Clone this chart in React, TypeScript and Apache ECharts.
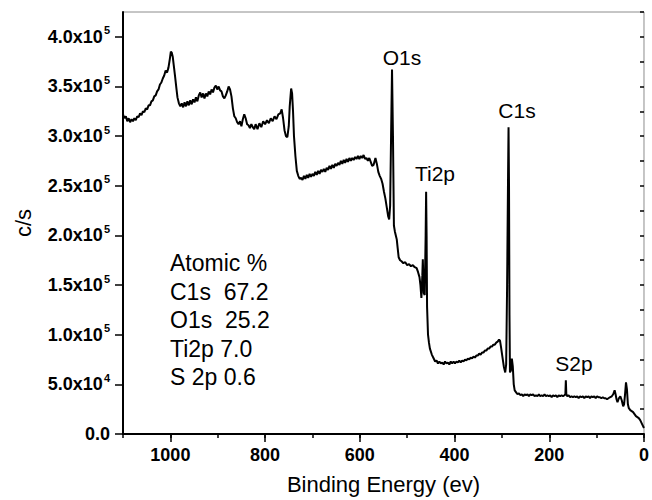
import React, { useEffect, useRef } from 'react';
import * as echarts from 'echarts';

// XPS survey spectrum: [binding energy (eV), intensity (10^3 c/s)]
const spectrum: [number, number][] = [
  [1100, 322], [1097, 318], [1094, 320], [1091, 315], [1088, 318], [1085, 314], [1082, 317], [1079, 315],
  [1076, 318], [1073, 316], [1070, 320], [1067, 319], [1064, 323], [1061, 321], [1058, 325], [1055, 324],
  [1052, 328], [1049, 327], [1046, 331], [1043, 331], [1040, 335], [1037, 336], [1034, 340], [1031, 341],
  [1028, 345], [1025, 347], [1022, 352], [1019, 354], [1016, 358], [1013, 361], [1010, 366], [1007, 364],
  [1004, 369], [1001, 378], [999, 385], [997, 384], [995, 380], [993, 372], [990, 360], [987, 347],
  [985, 339], [982, 333], [979, 330], [976, 333], [973, 329], [970, 334], [967, 330], [964, 335],
  [961, 331], [958, 336], [955, 332], [952, 337], [949, 334], [946, 339], [943, 335], [940, 341],
  [937, 344], [934, 339], [931, 343], [928, 338], [925, 343], [922, 340], [919, 345], [916, 342],
  [913, 347], [910, 344], [907, 349], [904, 351], [901, 347], [898, 350], [895, 346], [892, 345],
  [889, 340], [886, 338], [883, 341], [880, 345], [877, 350], [874, 347], [871, 340], [868, 328],
  [865, 320], [862, 318], [859, 314], [856, 312], [853, 315], [850, 310], [847, 317], [844, 322],
  [841, 318], [838, 312], [835, 311], [832, 308], [829, 312], [826, 309], [823, 307], [820, 312],
  [816, 307], [812, 313], [808, 309], [804, 315], [800, 312], [796, 316], [792, 313], [788, 318],
  [784, 315], [780, 320], [776, 317], [772, 322], [768, 323], [765, 327], [762, 318], [759, 306],
  [756, 300], [753, 299], [750, 310], [748, 330], [745, 348], [743, 343], [741, 325], [739, 300],
  [736, 280], [733, 265], [730, 260], [727, 257], [724, 258], [721, 256], [718, 260], [715, 257],
  [712, 261], [709, 258], [706, 262], [703, 259], [700, 262], [697, 260], [694, 264], [691, 261],
  [688, 265], [685, 262], [682, 266], [679, 264], [676, 267], [673, 264], [670, 268], [667, 266],
  [664, 270], [661, 267], [658, 271], [655, 268], [652, 272], [649, 270], [646, 273], [643, 271],
  [640, 275], [637, 272], [634, 276], [631, 273], [628, 277], [625, 274], [622, 278], [619, 275],
  [616, 278], [613, 276], [610, 279], [607, 277], [604, 280], [601, 277], [598, 280], [595, 278],
  [592, 281], [589, 277], [586, 278], [583, 275], [580, 278], [577, 274], [574, 270], [571, 271],
  [567, 278], [564, 272], [561, 264], [558, 260], [555, 257], [552, 252], [549, 244], [546, 237],
  [543, 228], [540, 219], [538, 216], [536, 230], [534, 300], [532, 367], [530, 300], [528, 210],
  [526, 204], [524, 200], [522, 196], [520, 187], [518, 178], [515, 175], [512, 174], [508, 172],
  [504, 173], [500, 170], [496, 171], [492, 169], [488, 170], [484, 168], [480, 167], [477, 163],
  [474, 158], [472, 150], [470, 137], [468, 160], [467, 176], [466, 160], [465, 142], [463, 140],
  [461, 200], [460, 244], [459, 200], [458, 128], [456, 100], [454, 92], [452, 86], [448, 80],
  [444, 76], [441, 73], [438, 74], [435, 71], [432, 73], [429, 71], [426, 72], [423, 70],
  [420, 73], [417, 71], [414, 72], [411, 70], [408, 73], [405, 71], [402, 73], [399, 71],
  [396, 73], [393, 72], [390, 74], [387, 72], [384, 74], [381, 73], [378, 75], [375, 74],
  [372, 76], [369, 75], [366, 77], [363, 76], [360, 78], [357, 77], [354, 79], [351, 79],
  [348, 81], [345, 80], [342, 82], [339, 82], [336, 84], [333, 84], [330, 86], [327, 86],
  [324, 88], [321, 88], [318, 90], [315, 90], [312, 92], [309, 93], [306, 95], [304, 94],
  [302, 88], [299, 78], [296, 68], [293, 62], [291, 70], [289, 150], [287, 260], [286, 309],
  [285, 250], [284, 120], [283, 62], [281, 64], [279, 76], [277, 68], [275, 50], [273, 44],
  [270, 42], [267, 40], [264, 41], [261, 39], [258, 40], [255, 38], [252, 40], [249, 39],
  [246, 40], [243, 38], [240, 40], [237, 39], [234, 40], [231, 38], [228, 39], [225, 38],
  [222, 40], [219, 38], [216, 39], [213, 38], [210, 40], [207, 38], [204, 39], [201, 38],
  [198, 39], [195, 37], [192, 39], [189, 38], [186, 39], [183, 37], [180, 39], [177, 38],
  [174, 39], [171, 38], [168, 39], [166, 40], [165, 54], [164, 40], [162, 38], [159, 39],
  [156, 37], [153, 38], [150, 37], [147, 38], [144, 37], [141, 38], [138, 36], [135, 38],
  [132, 37], [129, 38], [126, 36], [123, 38], [120, 37], [117, 38], [114, 36], [111, 38],
  [108, 37], [105, 38], [102, 36], [99, 38], [96, 37], [93, 37], [90, 36], [87, 37],
  [84, 36], [81, 36], [78, 35], [75, 36], [72, 37], [68, 38], [65, 40], [62, 44],
  [60, 40], [58, 35], [56, 32], [53, 36], [50, 38], [47, 34], [44, 28], [42, 30],
  [40, 40], [38, 52], [36, 45], [34, 30], [32, 26], [29, 24], [26, 23], [23, 22],
  [20, 20], [17, 18], [14, 17], [11, 16], [8, 14], [5, 11], [2, 8], [0, 6],
];

const peakNames = ['O1s', 'Ti2p', 'C1s', 'S2p'];
const elements = ['C1s', 'O1s', 'Ti2p', 'S 2p'];
const atomicPercent = [67.2, 25.2, 7.0, 0.6];

const FONT = '"Liberation Sans", Arial, Helvetica, sans-serif';

// label anchor (centre) for each peak name, in pixels
const peakLabelPos: Record<string, [number, number]> = {
  O1s: [402, 57],
  Ti2p: [435, 173],
  C1s: [517, 110],
  S2p: [574, 363],
};

function sciLabel(v: number): string {
  if (v === 0) return '{m|0.0}';
  const e = Math.floor(Math.log10(v) + 1e-9);
  const m = (v / Math.pow(10, e)).toFixed(1);
  return `{m|${m}x10}{e|${e}}`;
}

export default function App() {
  const ref = useRef<HTMLDivElement>(null);

  useEffect(() => {
    const chart = echarts.init(ref.current!, undefined, { renderer: 'svg' });

    const graphic: any[] = [];
    peakNames.forEach((name) => {
      const [x, y] = peakLabelPos[name];
      graphic.push({
        type: 'text',
        x,
        y,
        style: {
          text: name,
          font: `21px ${FONT}`,
          fill: '#000',
          textAlign: 'center',
          textVerticalAlign: 'middle',
        },
      });
    });
    const rows = ['Atomic %'].concat(
      elements.map((el, i) => `${el.padEnd(5)}${atomicPercent[i].toFixed(1)}`)
    );
    rows.forEach((t, i) => {
      graphic.push({
        type: 'text',
        x: 170,
        y: 263 + i * 28.5,
        style: {
          text: t,
          font: `23px ${FONT}`,
          fill: '#000',
          textAlign: 'left',
          textVerticalAlign: 'middle',
        },
      });
    });

    const option: any = {
      animation: false,
      backgroundColor: '#fff',
      grid: {
        left: 123,
        right: 4,
        top: 12,
        bottom: 63,
        show: true,
        borderColor: '#8c8c8c',
        borderWidth: 1,
      },
      xAxis: [
        {
          type: 'value',
          min: 0,
          max: 1100,
          interval: 200,
          inverse: true,
          position: 'bottom',
          axisLine: { show: true, onZero: false, lineStyle: { color: '#000', width: 2 } },
          axisTick: { show: true, length: 8, lineStyle: { color: '#000', width: 1.5 } },
          axisLabel: {
            fontFamily: FONT,
            fontSize: 18,
            fontWeight: 'bold',
            color: '#000',
            margin: 12,
            showMaxLabel: false,
            formatter: (v: number) => String(v),
          },
          splitLine: { show: false },
          name: 'Binding Energy (ev)',
          nameLocation: 'middle',
          nameGap: 39,
          nameTextStyle: { fontFamily: FONT, fontSize: 22, color: '#000' },
        },
        {
          type: 'value',
          min: 0,
          max: 1100,
          interval: 100,
          inverse: true,
          position: 'bottom',
          axisLine: { show: false },
          axisTick: { show: true, length: 4, lineStyle: { color: '#000', width: 1.5 } },
          axisLabel: { show: false },
          splitLine: { show: false },
        },
      ],
      yAxis: [
        {
          type: 'value',
          min: 0,
          max: 425000,
          interval: 50000,
          position: 'left',
          axisLine: { show: true, onZero: false, lineStyle: { color: '#000', width: 2 } },
          axisTick: { show: true, length: 8, lineStyle: { color: '#000', width: 1.5 } },
          axisLabel: {
            margin: 13,
            showMaxLabel: false,
            formatter: sciLabel,
            rich: {
              m: {
                fontFamily: FONT,
                fontSize: 18,
                fontWeight: 'bold',
                color: '#000',
                lineHeight: 24,
              },
              e: {
                fontFamily: FONT,
                fontSize: 11,
                fontWeight: 'bold',
                color: '#000',
                lineHeight: 11,
                verticalAlign: 'top',
                padding: [0, 0, 0, 1],
              },
            },
          },
          splitLine: { show: false },
          name: 'c/s',
          nameLocation: 'middle',
          nameGap: 89,
          nameRotate: 90,
          nameTextStyle: { fontFamily: FONT, fontSize: 22, color: '#000' },
        },
        {
          type: 'value',
          min: 0,
          max: 425000,
          interval: 25000,
          position: 'left',
          axisLine: { show: false },
          axisTick: { show: true, length: 4, lineStyle: { color: '#000', width: 1.5 } },
          axisLabel: { show: false },
          splitLine: { show: false },
        },
      ],
      series: [
        {
          type: 'line',
          xAxisIndex: 0,
          yAxisIndex: 0,
          data: spectrum.map(([be, k]) => [be, k * 1000]),
          showSymbol: false,
          symbol: 'none',
          lineStyle: { color: '#000', width: 2 },
          z: 3,
        },
      ],
      graphic,
    };

    chart.setOption(option);
    return () => chart.dispose();
  }, []);

  return (
    <div
      ref={ref}
      style={{ position: 'fixed', left: 0, top: 0, width: 652, height: 500, background: '#fff' }}
    />
  );
}
